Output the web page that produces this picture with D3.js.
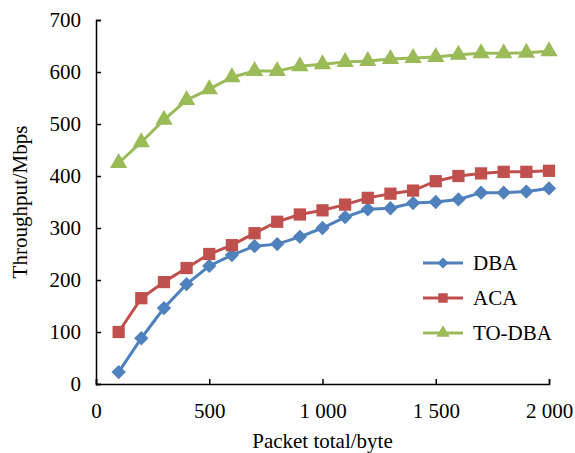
<!DOCTYPE html>
<html>
<head>
<meta charset="utf-8">
<script src="https://cdn.jsdelivr.net/npm/d3@7"></script>
<style>
  body { margin: 0; background: #fff; }
</style>
</head>
<body>
<div id="chart"></div>
<script>
// data
const packetSizes = [100, 200, 300, 400, 500, 600, 700, 800, 900, 1000,
                     1100, 1200, 1300, 1400, 1500, 1600, 1700, 1800, 1900, 2000];
const dbaValues   = [23, 88, 146, 192, 227, 248, 265, 269, 283, 300,
                     321, 336, 338, 348, 350, 355, 368, 368, 370, 376];
const acaValues   = [100, 165, 196, 223, 250, 267, 290, 312, 326, 334,
                     345, 358, 366, 372, 390, 400, 405, 408, 408, 410];
const todbaValues = [425, 465, 508, 546, 567, 590, 602, 602, 611, 615,
                     619, 621, 625, 627, 629, 633, 636, 636, 637, 640];
const seriesNames = ["DBA", "ACA", "TO-DBA"];
const xTicks = [0, 500, 1000, 1500, 2000];
const yTicks = [0, 100, 200, 300, 400, 500, 600, 700];

const FONT = "'Liberation Serif', 'Times New Roman', 'DejaVu Serif', serif";

const series = [
  { name: seriesNames[0], values: dbaValues,   color: "#4F81BD", symbol: d3.symbolDiamond2, size: 130 },
  { name: seriesNames[1], values: acaValues,   color: "#C0504D", symbol: d3.symbolSquare,   size: 150 },
  { name: seriesNames[2], values: todbaValues, color: "#9BBB59", symbol: d3.symbolTriangle, size: 130 }
];

const W = 575, H = 453;
const margin = { top: 20, right: 26, bottom: 69, left: 96 };
const width = W - margin.left - margin.right,
      height = H - margin.top - margin.bottom;

const svg = d3.select("#chart").append("svg")
  .attr("width", W).attr("height", H)
  .attr("font-family", FONT);
const g = svg.append("g")
  .attr("transform", `translate(${margin.left},${margin.top})`);

const x = d3.scaleLinear().domain([0, 2000]).range([0, width]);
const y = d3.scaleLinear().domain([0, 700]).range([height, 0]);

// "1 000" style thousands
const fmt = d => d >= 1000 ? String(d).slice(0, 1) + " " + String(d).slice(1) : String(d);

// Axes (ticks point inward)
const xAxis = g.append("g")
  .attr("transform", `translate(0,${height})`)
  .call(d3.axisBottom(x).tickValues(xTicks).tickSizeInner(-5).tickSizeOuter(-5)
    .tickPadding(19).tickFormat(fmt));

const yAxis = g.append("g")
  .call(d3.axisLeft(y).tickValues(yTicks).tickSizeInner(-5).tickSizeOuter(-5).tickPadding(15));

[xAxis, yAxis].forEach(a => {
  a.attr("font-family", FONT).attr("font-size", 21);
  a.selectAll("text").attr("fill", "#000");
});

g.selectAll(".domain, .tick line").style("stroke", "#000").style("stroke-width", "1.5px");

// Lines and markers
const line = d3.line()
  .x((d, i) => x(packetSizes[i]))
  .y(d => y(d));

series.forEach(s => {
  g.append("path")
    .datum(s.values)
    .attr("fill", "none")
    .attr("stroke", s.color)
    .attr("stroke-width", 3)
    .attr("d", line);

  g.selectAll(null)
    .data(s.values)
    .enter().append("path")
    .attr("transform", (d, i) => `translate(${x(packetSizes[i])},${y(d)})`)
    .attr("d", d3.symbol().type(s.symbol).size(s.size))
    .attr("fill", s.color);
});

// Legend
const legend = svg.append("g").attr("transform", "translate(423,263)");
series.forEach((s, i) => {
  const row = legend.append("g").attr("transform", `translate(0,${i * 35})`);
  row.append("line").attr("x1", 0).attr("x2", 40)
    .attr("stroke", s.color).attr("stroke-width", 3);
  row.append("path").attr("transform", "translate(20,0)")
    .attr("d", d3.symbol().type(s.symbol).size(s.size * 0.6))
    .attr("fill", s.color);
  row.append("text").attr("x", 50).attr("y", 0).attr("dy", "0.35em")
    .attr("font-size", 21).text(s.name);
});

// Axis titles
svg.append("text")
  .attr("x", margin.left + width / 2).attr("y", 448)
  .attr("text-anchor", "middle").attr("font-size", 21)
  .text("Packet total/byte");

svg.append("text")
  .attr("transform", `translate(27,${margin.top + height / 2}) rotate(-90)`)
  .attr("text-anchor", "middle").attr("font-size", 21)
  .text("Throughput/Mbps");
</script>
</body>
</html>
